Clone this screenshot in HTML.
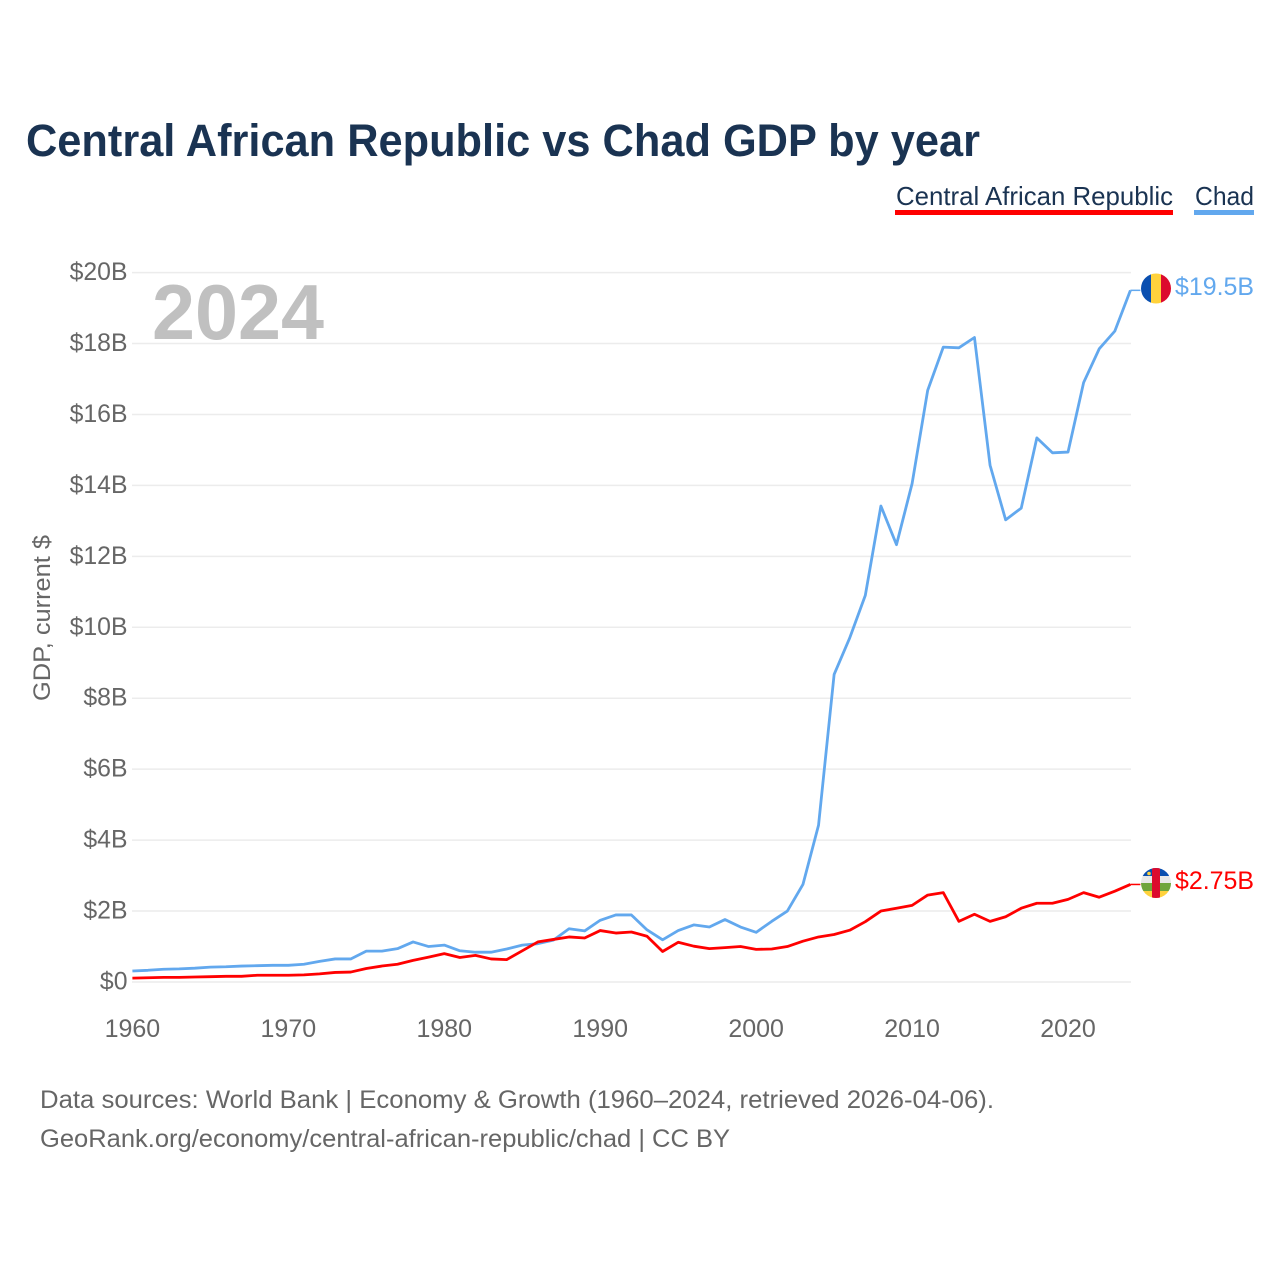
<!DOCTYPE html>
<html lang="en">
<head>
<meta charset="utf-8">
<title>Central African Republic vs Chad GDP by year</title>
<style>
html,body{margin:0;padding:0;background:#fff;width:1280px;height:1280px;overflow:hidden}
svg{display:block;font-family:"Liberation Sans",sans-serif}
</style>
</head>
<body>
<svg id="chart" width="1280" height="1280" viewBox="0 0 1280 1280" xmlns="http://www.w3.org/2000/svg">
  <defs>
    <clipPath id="flag-clip-td"><circle cx="1156" cy="288.5" r="15"/></clipPath>
    <clipPath id="flag-clip-cf"><circle cx="1156" cy="883" r="15"/></clipPath>
  </defs>
  <text x="26" y="156" font-size="45" font-weight="700" fill="#1a3352" textLength="954" lengthAdjust="spacingAndGlyphs">Central African Republic vs Chad GDP by year</text>

  <g>
    <g>
      <text x="896" y="205" font-size="26" fill="#1a3352" textLength="277" lengthAdjust="spacingAndGlyphs">Central African Republic</text>
      <rect x="895" y="210" width="278" height="5" fill="#ff0000"/>
    </g>
    <g>
      <text x="1195" y="205" font-size="26" fill="#1a3352" textLength="59" lengthAdjust="spacingAndGlyphs">Chad</text>
      <rect x="1194" y="210" width="60" height="5" fill="#62a8ee"/>
    </g>
  </g>

  <g id="grid"></g>
  <g id="y-axis"></g>
  <g id="x-axis"></g>

  <text transform="translate(50,618) rotate(-90)" text-anchor="middle" font-size="24" fill="#666666" textLength="166" lengthAdjust="spacingAndGlyphs">GDP, current $</text>
  <text x="152" y="339" font-size="78" font-weight="700" fill="#c0c0c0" textLength="172" lengthAdjust="spacingAndGlyphs">2024</text>

  <g id="series"></g>

  <g clip-path="url(#flag-clip-td)">
    <rect x="1141" y="273" width="10" height="31" fill="#0a4fb0"/>
    <rect x="1151" y="273" width="10" height="31" fill="#ffd23c"/>
    <rect x="1161" y="273" width="10" height="31" fill="#dc0a2d"/>
  </g>
  <g clip-path="url(#flag-clip-cf)">
    <rect x="1141" y="868" width="30" height="8" fill="#0a4fb0"/>
    <rect x="1141" y="876" width="30" height="8" fill="#e8e8e8"/>
    <rect x="1141" y="883" width="30" height="8" fill="#6fa53c"/>
    <rect x="1141" y="891" width="30" height="8" fill="#ffd23c"/>
    <rect x="1152" y="868" width="8" height="31" fill="#dc0a2d"/>
    <circle cx="1149" cy="873.500" r="1.800" fill="#ffd23c"/>
  </g>

  <text id="end-label-chad" x="1175" y="295" font-size="25" fill="#62a8ee" textLength="79" lengthAdjust="spacingAndGlyphs">$19.5B</text>
  <text id="end-label-car" x="1175" y="889" font-size="25" fill="#ff0000" textLength="79" lengthAdjust="spacingAndGlyphs">$2.75B</text>

  <text x="40" y="1108" font-size="25" fill="#666666" textLength="954" lengthAdjust="spacingAndGlyphs">Data sources: World Bank | Economy &amp; Growth (1960–2024, retrieved 2026-04-06).</text>
  <text x="40" y="1147" font-size="25" fill="#666666" textLength="690" lengthAdjust="spacingAndGlyphs">GeoRank.org/economy/central-african-republic/chad | CC BY</text>
</svg>
<script>
const startYear = 1960;
const yTickValues = [0, 2, 4, 6, 8, 10, 12, 14, 16, 18, 20];
const yTickLabels = ["$0", "$2B", "$4B", "$6B", "$8B", "$10B", "$12B", "$14B", "$16B", "$18B", "$20B"];
const xTickYears = [1960, 1970, 1980, 1990, 2000, 2010, 2020];
const chadValues = [
  0.31, 0.33, 0.36, 0.37, 0.39, 0.42, 0.43, 0.45, 0.46, 0.47,
  0.47, 0.50, 0.58, 0.65, 0.65, 0.87, 0.87, 0.94, 1.13, 1.00,
  1.04, 0.88, 0.84, 0.84, 0.93, 1.04, 1.08, 1.18, 1.50, 1.44,
  1.74, 1.89, 1.89, 1.47, 1.19, 1.45, 1.61, 1.55, 1.76, 1.55,
  1.40, 1.71, 2.00, 2.75, 4.42, 8.67, 9.70, 10.90, 13.42, 12.33,
  14.05, 16.68, 17.90, 17.88, 18.17, 14.57, 13.03, 13.36, 15.34, 14.92,
  14.94, 16.90, 17.85, 18.35, 19.50
];
const carValues = [
  0.11, 0.12, 0.13, 0.13, 0.14, 0.15, 0.16, 0.16, 0.19, 0.19,
  0.19, 0.20, 0.23, 0.27, 0.28, 0.38, 0.45, 0.50, 0.61, 0.70,
  0.80, 0.69, 0.75, 0.65, 0.63, 0.88, 1.13, 1.20, 1.27, 1.24,
  1.45, 1.38, 1.41, 1.29, 0.86, 1.12, 1.01, 0.94, 0.97, 1.00,
  0.92, 0.93, 1.00, 1.15, 1.27, 1.34, 1.46, 1.70, 2.00, 2.08,
  2.16, 2.45, 2.52, 1.71, 1.91, 1.71, 1.84, 2.08, 2.22, 2.22,
  2.33, 2.52, 2.39, 2.56, 2.75
];

const SVG_NS = "http://www.w3.org/2000/svg";
function xScale(year) { return 132.4 + (year - 1960) * (1130.4 - 132.4) / 64; }
function yScale(value) { return 982 - value * 35.47; }

const gridGroup = document.getElementById("grid");
const yAxisGroup = document.getElementById("y-axis");
yTickValues.forEach(function (value, i) {
  const line = document.createElementNS(SVG_NS, "line");
  
  
  line.setAttribute("x1", 132);
  line.setAttribute("x2", 1131);
  line.setAttribute("y1", yScale(value));
  line.setAttribute("y2", yScale(value));
  line.setAttribute("stroke", "#ececec");
  line.setAttribute("stroke-width", 1.5);
  gridGroup.appendChild(line);

  const label = document.createElementNS(SVG_NS, "text");
  
  
  label.setAttribute("x", 127.5);
  label.setAttribute("y", yScale(value) + 7.5);
  label.setAttribute("text-anchor", "end");
  label.setAttribute("font-size", 24.8);
  label.setAttribute("fill", "#666666");
  label.textContent = yTickLabels[i];
  yAxisGroup.appendChild(label);
});

const xAxisGroup = document.getElementById("x-axis");
xTickYears.forEach(function (year) {
  const label = document.createElementNS(SVG_NS, "text");
  
  
  label.setAttribute("x", xScale(year));
  label.setAttribute("y", 1037);
  label.setAttribute("text-anchor", "middle");
  label.setAttribute("font-size", 25);
  label.setAttribute("fill", "#666666");
  label.textContent = String(year);
  xAxisGroup.appendChild(label);
});

function linePoints(values) {
  return values.map(function (v, i) {
    return xScale(startYear + i).toFixed(2) + "," + yScale(v).toFixed(2);
  }).join(" ");
}

const seriesGroup = document.getElementById("series");

const chadLine = document.createElementNS(SVG_NS, "polyline");


chadLine.setAttribute("points", linePoints(chadValues));
chadLine.setAttribute("fill", "none");
chadLine.setAttribute("stroke", "#62a8ee");
chadLine.setAttribute("stroke-width", 2.8);
chadLine.setAttribute("stroke-linejoin", "round");
seriesGroup.appendChild(chadLine);

const carLine = document.createElementNS(SVG_NS, "polyline");


carLine.setAttribute("points", linePoints(carValues));
carLine.setAttribute("fill", "none");
carLine.setAttribute("stroke", "#ff0000");
carLine.setAttribute("stroke-width", 2.8);
carLine.setAttribute("stroke-linejoin", "round");
seriesGroup.appendChild(carLine);

const lastX = xScale(startYear + chadValues.length - 1);

const chadConnector = document.createElementNS(SVG_NS, "line");


chadConnector.setAttribute("x1", lastX);
chadConnector.setAttribute("x2", lastX + 10);
chadConnector.setAttribute("y1", yScale(chadValues[chadValues.length - 1]));
chadConnector.setAttribute("y2", yScale(chadValues[chadValues.length - 1]));
chadConnector.setAttribute("stroke", "#62a8ee");
chadConnector.setAttribute("stroke-width", 1.5);
seriesGroup.appendChild(chadConnector);

const carConnector = document.createElementNS(SVG_NS, "line");


carConnector.setAttribute("x1", lastX);
carConnector.setAttribute("x2", lastX + 10);
carConnector.setAttribute("y1", yScale(carValues[carValues.length - 1]));
carConnector.setAttribute("y2", yScale(carValues[carValues.length - 1]));
carConnector.setAttribute("stroke", "#ff0000");
carConnector.setAttribute("stroke-width", 1.5);
seriesGroup.appendChild(carConnector);
</script>
</body>
</html>
